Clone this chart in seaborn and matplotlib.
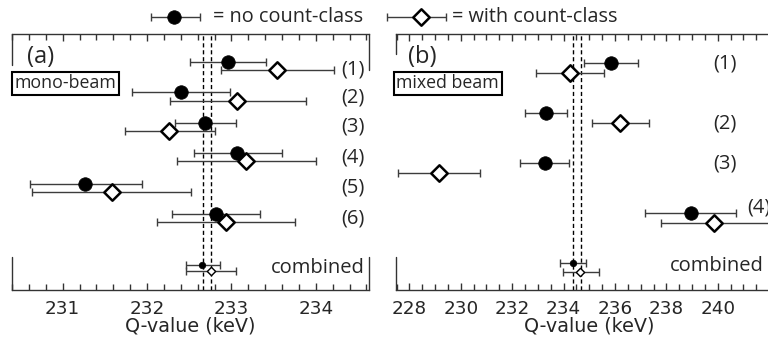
import numpy as np
import pandas as pd
import matplotlib
matplotlib.use("Agg")
import matplotlib.pyplot as plt
import seaborn as sns

sns.set_theme(style="white")
plt.rcParams['font.family'] = ['DejaVu Sans']

# ---------------- data: panel (a) mono-beam ----------------
labels_a = ["(1)", "(2)", "(3)", "(4)", "(5)", "(6)", "combined"]
rows_a = [1, 2, 3, 4, 5, 6, 7.67]
noc_a = [232.96, 232.40, 232.69, 233.07, 231.27, 232.82, 232.65]
noc_a_lo = [232.51, 231.82, 232.33, 232.56, 230.61, 232.30, 232.46]
noc_a_hi = [233.41, 232.98, 233.05, 233.60, 231.94, 233.34, 232.86]
wc_a = [233.54, 233.07, 232.26, 233.17, 231.58, 232.94, 232.76]
wc_a_lo = [232.88, 232.27, 231.74, 232.35, 230.64, 232.12, 232.46]
wc_a_hi = [234.21, 233.88, 232.80, 234.00, 232.52, 233.75, 233.06]
avg_a = [232.66, 232.76]
ticks_a = [231, 232, 233, 234]

# ---------------- data: panel (b) mixed beam ----------------
labels_b = ["(1)", "(2)", "(3)", "(4)", "combined"]
rows_b = [1, 2, 3, 4, 5]
noc_b = [235.85, 233.32, 233.27, 238.96, 234.36]
noc_b_lo = [234.78, 232.51, 232.32, 237.17, 233.86]
noc_b_hi = [236.91, 234.14, 234.20, 240.71, 234.87]
wc_b = [234.25, 236.21, 229.15, 239.87, 234.65]
wc_b_lo = [232.94, 235.09, 227.55, 237.79, 233.96]
wc_b_hi = [235.59, 237.34, 230.76, 242.10, 235.37]
avg_b = [234.38, 234.68]
ticks_b = [228, 230, 232, 234, 236, 238, 240]

ERRC = "#3c3c3c"
LF = "Open Sans"


def build(rows, noc, nlo, nhi, wc, wlo, whi, doff):
    n = len(rows)
    df = pd.DataFrame({
        "row": list(rows) + [r + doff for r in rows],
        "q": list(noc) + list(wc),
        "lo": list(nlo) + list(wlo),
        "hi": list(nhi) + list(whi),
        "kind": ["noc"] * n + ["wc"] * n,
        "comb": [False] * (n - 1) + [True] + [False] * (n - 1) + [True],
    })
    return df


def draw_panel(ax, df, xlim, ylim, avg, ticks, minor):
    for v in avg:
        ax.axvline(v, color="black", ls=(0, (3, 2)), lw=1.0, zorder=1)
    ax.errorbar(df["q"], df["row"],
                xerr=[df["q"] - df["lo"], df["hi"] - df["q"]],
                fmt="none", ecolor=ERRC, elinewidth=1.0, capsize=3.0,
                capthick=1.0, zorder=2)
    big = df[~df["comb"]]
    small = df[df["comb"]]
    sns.scatterplot(data=big[big.kind == "noc"], x="q", y="row", ax=ax,
                    marker="o", s=95, color="black", edgecolor="black",
                    linewidth=0.5, zorder=4, legend=False)
    sns.scatterplot(data=big[big.kind == "wc"], x="q", y="row", ax=ax,
                    marker="D", s=70, color="white", edgecolor="black",
                    linewidth=1.8, zorder=5, legend=False)
    sns.scatterplot(data=small[small.kind == "noc"], x="q", y="row", ax=ax,
                    marker="o", s=22, color="black", edgecolor="black",
                    linewidth=0.5, zorder=4, legend=False)
    sns.scatterplot(data=small[small.kind == "wc"], x="q", y="row", ax=ax,
                    marker="D", s=18, color="white", edgecolor="black",
                    linewidth=1.0, zorder=5, legend=False)
    ax.set_xlim(*xlim)
    ax.set_ylim(*ylim)
    ax.set_yticks([])
    ax.set_ylabel("")
    ax.set_xticks(ticks)
    ax.set_xticklabels([str(t) for t in ticks])
    ax.set_xlabel("Q-value (keV)", fontsize=13.8, labelpad=-1)
    ax.xaxis.set_minor_locator(matplotlib.ticker.MultipleLocator(minor))
    ax.tick_params(axis="x", which="both", direction="in", top=True,
                   bottom=True, labelsize=13.2, color="#333333", pad=7)
    ax.tick_params(axis="x", which="major", length=5, width=1)
    ax.tick_params(axis="x", which="minor", length=4, width=1)
    for s in ["left", "right"]:
        ax.spines[s].set_visible(False)
    for s in ["top", "bottom"]:
        ax.spines[s].set_color("#333333")
        ax.spines[s].set_linewidth(1.0)


fig = plt.figure(figsize=(7.68, 3.42), dpi=100)
axa = fig.add_axes([12 / 768, 52 / 342, 357 / 768, 256 / 342])
axb = fig.add_axes([396 / 768, 52 / 342, 386 / 768, 256 / 342])

dfa = build(rows_a, noc_a, noc_a_lo, noc_a_hi, wc_a, wc_a_lo, wc_a_hi, 0.27)
dfa.loc[dfa.index[-1], "row"] = rows_a[-1] + 0.22
draw_panel(axa, dfa, (230.40, 234.63), (8.5, 0.08), avg_a, ticks_a, 0.2)

dfb = build(rows_b, noc_b, noc_b_lo, noc_b_hi, wc_b, wc_b_lo, wc_b_hi, 0.2)
dfb.loc[dfb.index[-1], "row"] = rows_b[-1] + 0.18
draw_panel(axb, dfb, (227.48, 242.5), (5.54, 0.42), avg_b, ticks_b, 0.5)

# partial side frames
SC = "#333333"
axa.plot([0, 0], [1, 0.879], transform=axa.transAxes, color=SC, lw=1.0, clip_on=False)
axa.plot([1, 1], [1, 0.86], transform=axa.transAxes, color=SC, lw=1.0, clip_on=False)
axa.plot([0, 0], [0, 0.13], transform=axa.transAxes, color=SC, lw=1.0, clip_on=False)
axa.plot([1, 1], [0, 0.13], transform=axa.transAxes, color=SC, lw=1.0, clip_on=False)
axb.plot([0, 0], [1, 0.92], transform=axb.transAxes, color=SC, lw=1.0, clip_on=False)
axb.plot([0, 0], [0, 0.13], transform=axb.transAxes, color=SC, lw=1.0, clip_on=False)

# row labels
offs_a = [0.26, 0.17, 0.13, 0.13, 0.13, 0.15, 0.1]
for lab, r, o in zip(labels_a, rows_a, offs_a):
    axa.text(0.987, r + o, lab, transform=axa.get_yaxis_transform(),
             ha="right", va="center", fontsize=14.5, family=LF)
xb_lab = [240.75, 240.75, 240.75, 242.05, 241.8]
offs_b = [0.0, 0.2, 0.0, -0.12, 0.06]
for lab, r, o, xx in zip(labels_b, rows_b, offs_b, xb_lab):
    axb.text(xx, r + o, lab, ha="right", va="center", fontsize=14.5,
             family=LF, clip_on=False)

for txt, x0 in [("(a)", 27), ("(b)", 408)]:
    fig.text(x0 / 768, 1 - 57 / 342, txt, ha="left", va="center",
             fontsize=17, family=LF)

box = dict(boxstyle="square,pad=0.15", fc="white", ec="black", lw=1.5)
fig.text(14.5 / 768, 1 - 83.5 / 342, "mono-beam", ha="left", va="center",
         fontsize=12.8, family=LF, bbox=box)
fig.text(396.5 / 768, 1 - 83.5 / 342, "mixed beam", ha="left", va="center",
         fontsize=12.8, family=LF, bbox=box)

# legend across the top
leg = fig.add_axes([0, 1 - 34 / 342, 1, 34 / 342])
leg.set_xlim(0, 768)
leg.set_ylim(34, 0)
leg.axis("off")
leg_x = [174, 420.7]
leg_lo = [151, 387]
leg_hi = [199.5, 445.7]
leg_y = [17, 17]
leg.errorbar(leg_x, leg_y, xerr=[np.subtract(leg_x, leg_lo), np.subtract(leg_hi, leg_x)],
             fmt="none", ecolor=ERRC, elinewidth=1.0, capsize=3.0, capthick=1.0)
sns.scatterplot(x=[leg_x[0]], y=[leg_y[0]], ax=leg, marker="o", s=95,
                color="black", edgecolor="black", linewidth=0.5, zorder=4, legend=False)
sns.scatterplot(x=[leg_x[1]], y=[leg_y[1]], ax=leg, marker="D", s=70,
                color="white", edgecolor="black", linewidth=1.8, zorder=5, legend=False)
leg.text(213, 17, "= no count-class", ha="left", va="center", fontsize=14.3, family=LF)
leg.text(452, 17, "= with count-class", ha="left", va="center", fontsize=14.3, family=LF)

fig.savefig("out.png", dpi=100)
